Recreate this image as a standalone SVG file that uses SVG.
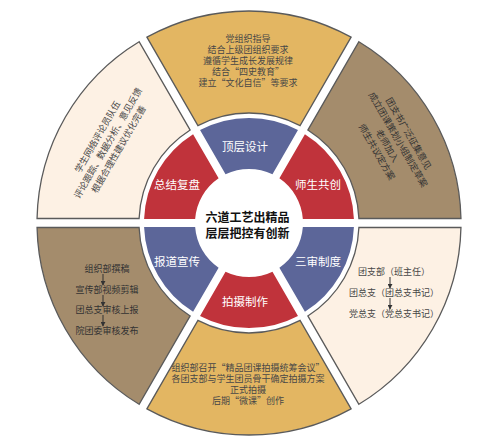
<svg xmlns="http://www.w3.org/2000/svg" width="500" height="448" viewBox="0 0 500 448">
<defs>
<style>
text{font-family:"Liberation Sans","Noto Sans CJK SC",sans-serif;}
.q{font-family:"Noto Sans CJK SC",sans-serif;}
.o{stroke:#5a5a5a;stroke-width:1.3;}
.gold{fill:#e3b662;}
.tan{fill:#a48c6c;}
.cream{fill:#fdf1e4;}
.blue{fill:#5c6699;}
.red{fill:#c0333b;}
.t{font-size:9px;fill:#474747;text-anchor:middle;}
.td{font-size:9px;fill:#333;text-anchor:middle;}
.m{font-size:11.5px;fill:#ffffff;text-anchor:middle;}
.c{font-size:12px;font-weight:bold;fill:#111;text-anchor:middle;}
.ar{stroke:#333;stroke-width:1;fill:none;}
</style>
<marker id="ah" viewBox="0 0 6 6" refX="5" refY="3" markerWidth="5" markerHeight="5" orient="auto" markerUnits="userSpaceOnUse">
<path d="M0,0 L6,3 L0,6 Z" fill="#333"/>
</marker>
</defs>
<rect width="500" height="448" fill="#ffffff"/>

<g id="outer-top">
<path class="o gold" d="M 146.92 37.18 A 212 212 0 0 1 351.08 37.18 L 300.08 125.58 A 110 110 0 0 0 197.92 125.58 Z"/>
<text class="t" x="248" y="42.3">党组织指导</text>
<text class="t" x="248" y="53.3">结合上级团组织要求</text>
<text class="t" x="248" y="64.3">遵循学生成长发展规律</text>
<text class="t" x="248" y="75.3">结合<tspan class="q">“</tspan>四史教育<tspan class="q">”</tspan></text>
<text class="t" x="248" y="86.3">建立<tspan class="q">“</tspan>文化自信<tspan class="q">”</tspan>等要求</text>
</g>

<g id="outer-upper-right">
<path class="o tan" d="M 358.88 41.70 A 212 212 0 0 1 460.95 218.50 L 358.91 218.50 A 110 110 0 0 0 307.85 130.07 Z"/>
<g transform="translate(392.7 142.7) rotate(60)">
<text class="td" x="0" y="-15.2">团支书广泛征集意见</text>
<text class="td" x="0" y="-2.9">成立团课策划小组制定草案</text>
<text class="td" x="0" y="9.4">老师加入</text>
<text class="td" x="0" y="21.7">师生共议定方案</text>
</g>
</g>

<g id="outer-lower-right">
<path class="o cream" d="M 460.95 227.50 A 212 212 0 0 1 358.88 404.30 L 307.85 315.93 A 110 110 0 0 0 358.91 227.50 Z"/>
<text class="t" x="394" y="275.3">团支部（班主任）</text>
<text class="t" x="394" y="296.3">团总支（团总支书记）</text>
<text class="t" x="394" y="317.3">党总支（党总支书记）</text>
</g>

<g id="outer-bottom">
<path class="o gold" d="M 351.08 408.82 A 212 212 0 0 1 146.92 408.82 L 197.92 320.42 A 110 110 0 0 0 300.08 320.42 Z"/>
<text class="t" x="248" y="371.3">组织部召开<tspan class="q">“</tspan>精品团课拍摄统筹会议<tspan class="q">”</tspan></text>
<text class="t" x="248" y="382.3">各团支部与学生团员骨干确定拍摄方案</text>
<text class="t" x="248" y="393.3">正式拍摄</text>
<text class="t" x="248" y="404.3">后期<tspan class="q">“</tspan>微课<tspan class="q">”</tspan>创作</text>
</g>

<g id="outer-lower-left">
<path class="o tan" d="M 139.12 404.30 A 212 212 0 0 1 37.05 227.50 L 139.09 227.50 A 110 110 0 0 0 190.15 315.93 Z"/>
<text class="td" x="107" y="272.3">组织部撰稿</text>
<text class="td" x="107" y="293.3">宣传部视频剪辑</text>
<text class="td" x="107" y="313.3">团总支审核上报</text>
<text class="td" x="107" y="334.3">院团委审核发布</text>
</g>

<g id="outer-upper-left">
<path class="o cream" d="M 37.05 218.50 A 212 212 0 0 1 139.12 41.70 L 190.15 130.07 A 110 110 0 0 0 139.09 218.50 Z"/>
<g transform="translate(108 143) rotate(-60)">
<text class="t" x="0" y="-9">学生网络评论员队伍</text>
<text class="t" x="0" y="3.3">评论跟踪、数据分析、意见反馈</text>
<text class="t" x="0" y="15.6">根据合理性建议优化完善</text>
</g>
</g>

<g id="mid-top">
<path class="blue" d="M 200.03 130.12 A 105 105 0 0 1 297.97 130.12 L 272.47 174.37 A 54 54 0 0 0 225.53 174.37 Z"/>
<text class="m" x="245" y="151.2">顶层设计</text>
</g>
<g id="mid-upper-right">
<path class="red" d="M 304.92 134.13 A 105 105 0 0 1 353.92 219.0 L 302.85 219.0 A 54 54 0 0 0 279.39 178.36 Z"/>
<text class="m" x="318" y="189.2">师生共创</text>
</g>
<g id="mid-lower-right">
<path class="blue" d="M 353.92 227.0 A 105 105 0 0 1 304.92 311.87 L 279.39 267.64 A 54 54 0 0 0 302.85 227.0 Z"/>
<text class="m" x="318" y="266.2">三审制度</text>
</g>
<g id="mid-bottom">
<path class="red" d="M 297.97 315.88 A 105 105 0 0 1 200.03 315.88 L 225.53 271.63 A 54 54 0 0 0 272.47 271.63 Z"/>
<text class="m" x="245" y="306.2">拍摄制作</text>
</g>
<g id="mid-lower-left">
<path class="blue" d="M 193.08 311.87 A 105 105 0 0 1 144.08 227.0 L 195.15 227.0 A 54 54 0 0 0 218.61 267.64 Z"/>
<text class="m" x="177" y="266.2">报道宣传</text>
</g>
<g id="mid-upper-left">
<path class="red" d="M 144.08 219.0 A 105 105 0 0 1 193.08 134.13 L 218.61 178.36 A 54 54 0 0 0 195.15 219.0 Z"/>
<text class="m" x="177" y="189.2">总结复盘</text>
</g>

<g id="center">
<text class="c" x="247.5" y="222.3">六道工艺出精品</text>
<text class="c" x="247.5" y="238.3">层层把控有创新</text>
</g>

<g id="connectors">
<line class="ar" x1="103" y1="274" x2="103" y2="285" marker-end="url(#ah)"/>
<line class="ar" x1="103" y1="295" x2="103" y2="306" marker-end="url(#ah)"/>
<line class="ar" x1="103" y1="315" x2="103" y2="326" marker-end="url(#ah)"/>
<line class="ar" x1="390" y1="277" x2="390" y2="288" marker-end="url(#ah)"/>
<line class="ar" x1="390" y1="298" x2="390" y2="309" marker-end="url(#ah)"/>
</g>
</svg>
